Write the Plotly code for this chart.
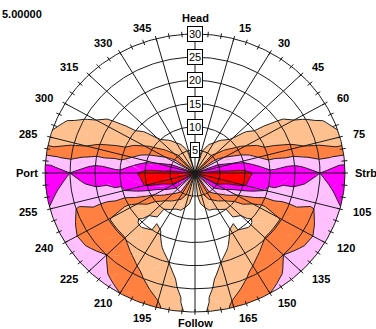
import numpy as np
import plotly.graph_objects as go

# ---------------- data ----------------
title_text = "5.00000"
half_angles = [0, 15, 30, 45, 60, 75, 90, 105, 120, 135, 150, 165, 180]
radii = [0, 5, 10, 15, 20, 25, 30]
# value on the polar grid (rows: heading 0..180, cols: radius 0..30); mirrored for 180..360
z_half = [
    [0.3, 0.3, 0.2, 0.2, 0.2, 0.2, 0.2],
    [0.9, 0.9, 0.3, 0.2, 0.2, 0.2, 0.2],
    [1.5, 1.5, 0.5, 0.3, 0.3, 0.3, 0.3],
    [2.2, 2.2, 1.05, 0.6, 0.5, 0.5, 0.4],
    [3.4, 3.4, 2.3, 1.4, 1.2, 0.85, 0.6],
    [4.4, 4.4, 3.8, 2.5, 2.2, 1.8, 1.1],
    [5.3, 5.3, 5.3, 4.3, 4.8, 4.0, 4.85],
    [5.8, 5.8, 5.1, 3.9, 3.4, 3.1, 3.94],
    [4.9, 4.9, 2.8, 1.6, 2.05, 2.6, 3.5],
    [3.6, 3.6, 1.3, 0.8, 2.05, 3.0, 3.4],
    [2.7, 2.7, 0.6, 1.1, 1.5, 2.3, 3.0],
    [1.6, 1.6, 0.5, 0.5, 1.0, 1.5, 2.2],
    [0.6, 0.6, 0.3, 0.3, 0.3, 0.4, 0.5],
]
levels = [1, 2, 3, 4, 5]
level_colors = ["#FFC090", "#FF8040", "#FFC0FF", "#FF00FF", "#FF0000"]
angle_ticks = list(range(0, 360, 15))
special_labels = {0: "Head", 90: "Strb", 180: "Follow", 270: "Port"}
radial_ticks = [5, 10, 15, 20, 25, 30]
minor_tick_step = 5

# ---------------- geometry helpers ----------------
n_ang = 24
angles = np.arange(n_ang + 1) * 15.0
zh = np.array(z_half)
Z = np.array([zh[i] if i <= 12 else zh[24 - i] for i in range(n_ang)])
Z = np.vstack([Z, Z[:1]])
R = np.array(radii, dtype=float)


def to_xy(t, r):
    a = np.radians(t)
    return r * np.sin(a), r * np.cos(a)


def densify(poly, closed=True, n=5):
    xs, ys = [], []
    m = len(poly)
    rng = range(m) if closed else range(m - 1)
    for k in rng:
        p = poly[k]
        q = poly[(k + 1) % m]
        for s in np.linspace(0, 1, n, endpoint=False):
            t = p[0] + (q[0] - p[0]) * s
            r = p[1] + (q[1] - p[1]) * s
            x, y = to_xy(t, r)
            xs.append(x)
            ys.append(y)
    if closed:
        xs.append(xs[0]); ys.append(ys[0])
    else:
        x, y = to_xy(poly[-1][0], poly[-1][1])
        xs.append(x); ys.append(y)
    return xs, ys


triangles = []
for i in range(n_ang):
    for j in range(len(R) - 1):
        A = (angles[i], R[j], Z[i, j])
        B = (angles[i + 1], R[j], Z[i + 1, j])
        C = (angles[i + 1], R[j + 1], Z[i + 1, j + 1])
        D = (angles[i], R[j + 1], Z[i, j + 1])
        M = (angles[i] + 7.5, (R[j] + R[j + 1]) / 2, (A[2] + B[2] + C[2] + D[2]) / 4)
        triangles += [(A, B, M), (B, C, M), (C, D, M), (D, A, M)]


def lerp(p, q, L):
    f = (L - p[2]) / (q[2] - p[2])
    return (p[0] + (q[0] - p[0]) * f, p[1] + (q[1] - p[1]) * f, L)


fig = go.Figure()

# filled bands (superlevel sets painted in order)
for L, col in zip(levels, level_colors):
    Le = L - 1e-9
    xs, ys = [], []
    for tri in triangles:
        out = []
        for k in range(3):
            p, q = tri[k], tri[(k + 1) % 3]
            pin, qin = p[2] >= Le, q[2] >= Le
            if pin:
                out.append(p)
            if pin != qin:
                out.append(lerp(p, q, Le))
        if len(out) >= 3:
            x, y = densify(out)
            xs += x + [None]
            ys += y + [None]
    fig.add_trace(go.Scatter(x=xs, y=ys, mode="lines", fill="toself", fillcolor=col,
                             line=dict(width=0, color=col), hoverinfo="skip", showlegend=False))

# contour lines
cx, cy = [], []
for L in levels:
    Le = L - 1e-9
    for tri in triangles:
        pts = []
        for k in range(3):
            p, q = tri[k], tri[(k + 1) % 3]
            if (p[2] - Le) * (q[2] - Le) < 0:
                pts.append(lerp(p, q, Le))
        if len(pts) == 2:
            x, y = densify(pts, closed=False, n=4)
            cx += x + [None]
            cy += y + [None]
fig.add_trace(go.Scatter(x=cx, y=cy, mode="lines", line=dict(color="#202020", width=1),
                         hoverinfo="skip", showlegend=False))

# grid circles
gx, gy = [], []
tt = np.linspace(0, 360, 361)
for r in radial_ticks:
    x, y = to_xy(tt, r)
    gx += list(x) + [None]
    gy += list(y) + [None]
# spokes
for a in angle_ticks:
    x, y = to_xy(np.array([a, a]), np.array([0, radial_ticks[-1]]))
    gx += list(x) + [None]
    gy += list(y) + [None]
# minor ticks on outer circle
rmax = radial_ticks[-1]
for a in range(0, 360, minor_tick_step):
    x, y = to_xy(np.array([a, a]), np.array([rmax - 0.6, rmax + 0.6]))
    gx += list(x) + [None]
    gy += list(y) + [None]
fig.add_trace(go.Scatter(x=gx, y=gy, mode="lines", line=dict(color="#1a1a1a", width=1),
                         hoverinfo="skip", showlegend=False))

ann = []
font_lbl = dict(family="Liberation Sans, Arial", size=11, color="black")
# radial labels
for r in radial_ticks:
    ann.append(dict(x=0, y=r, xref="x", yref="y", text=str(r), showarrow=False,
                    bgcolor="white", bordercolor="black", borderwidth=1, borderpad=1,
                    font=dict(family="Liberation Sans, Arial", size=11, color="black")))
# angular labels
for a in angle_ticks:
    if a in special_labels:
        txt = "<b>%s</b>" % special_labels[a]
        if a == 0:
            ann.append(dict(x=0, y=33.4, text=txt, xanchor="center", yanchor="middle"))
        elif a == 180:
            ann.append(dict(x=0, y=-32.3, text=txt, xanchor="center", yanchor="middle"))
        elif a == 90:
            ann.append(dict(x=31.5, y=0, text=txt, xanchor="left", yanchor="middle"))
        else:
            ann.append(dict(x=-31.0, y=0, text=txt, xanchor="right", yanchor="middle"))
    else:
        x, y = to_xy(a, 32.4)
        ann.append(dict(x=float(x), y=float(y), text="<b>%d</b>" % a,
                        xanchor="left" if a < 180 else "right", yanchor="middle"))
for d in ann[len(radial_ticks):]:
    d.update(xref="x", yref="y", showarrow=False, font=font_lbl)

ann.append(dict(x=0, y=1 - 14 / 329, xref="paper", yref="paper", text="<b>%s</b>" % title_text,
                showarrow=False, xanchor="left", yanchor="middle", font=font_lbl))

fig.update_layout(
    width=376, height=329,
    margin=dict(l=0, r=0, t=0, b=0),
    paper_bgcolor="white", plot_bgcolor="white",
    xaxis=dict(range=[-39.0, 36.2], visible=False, fixedrange=True),
    yaxis=dict(range=[-33.67, 37.34], visible=False, fixedrange=True),
    annotations=ann,
    showlegend=False,
)
fig.write_html("out.html", config={"displayModeBar": False},
               post_script="document.body.style.margin='0';document.body.style.overflow='hidden';")
